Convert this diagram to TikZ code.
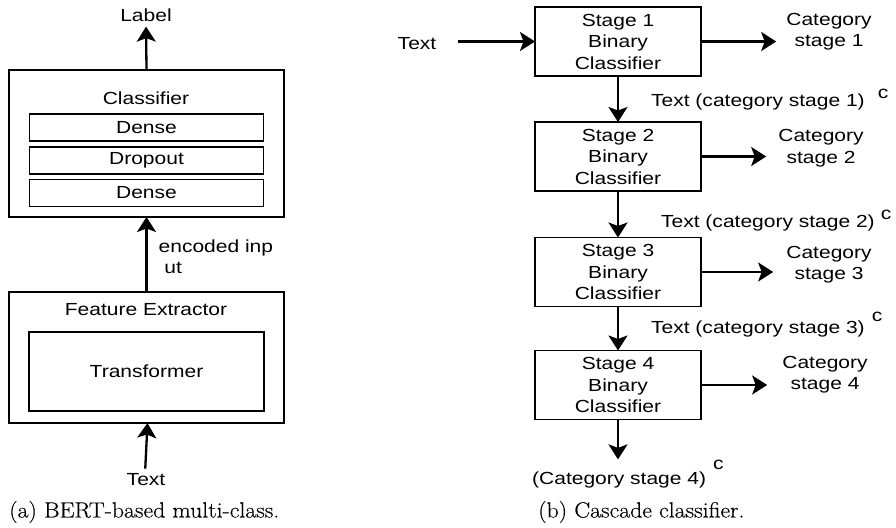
\documentclass[tikz,border=0pt]{standalone}
\usepackage{fontspec}
\newfontfamily\diafont[FakeStretch=1.2]{Liberation Sans}
\newfontfamily\capfont[FakeStretch=1.08,FakeBold=0.3]{Latin Modern Roman}
\usetikzlibrary{arrows.meta}

\begin{document}
\begin{tikzpicture}[x=1pt,y=-1pt,
	box/.style={draw,line width=1.6pt,inner sep=0,outer sep=0},
	lbl/.style={font=\diafont\fontsize{17.5}{21.5}\selectfont,align=center,inner sep=0},
	arr/.style={line width=2.3pt,-{Stealth[length=15pt,width=19pt,inset=3.5pt]}},
	captxt/.style={font=\capfont\fontsize{22}{26}\selectfont,inner sep=0,anchor=west}]
	\useasboundingbox (0,0) rectangle (896,527);

	\node[box,minimum width=275pt,minimum height=147pt] (clf) at (146.5,143.5) {};
	\node[lbl] (clft) at (146,98) {Classifier};
	\node[box,lbl,minimum width=234pt,minimum height=27pt] (d1) at (146.5,127.5) {Dense};
	\node[box,lbl,minimum width=234pt,minimum height=27pt] (drop) at (146.5,160.5) {Dropout};
	\node[box,lbl,minimum width=234pt,minimum height=27pt] (d2) at (146.5,193) {Dense};
	\node[lbl] (lab) at (146,15) {Label};
	\node[box,minimum width=275pt,minimum height=131pt] (feat) at (146.5,357.5) {};
	\node[lbl] (featt) at (146,310) {Feature Extractor};
	\node[box,lbl,minimum width=235pt,minimum height=79pt] (trf) at (146.5,371.5) {Transformer};
	\node[lbl] (tin) at (146,480) {Text};
	\draw[arr,shorten >=5pt] (clf.north) -- (lab.south);
	\draw[arr] (feat.north) -- node[lbl,anchor=west,align=left,xshift=11pt,yshift=-2pt] {encoded inp\\\ ut} (clf.south);
	\draw[arr,shorten <=5pt] ([xshift=-1pt]tin.north) -- ([xshift=1pt]feat.south);

	\node[lbl] (tin2) at (417,44) {Text};
	\node[box,lbl,minimum width=166pt,minimum height=69pt] (s1) at (618,41.5) {Stage 1\\Binary\\Classifier};
	\node[box,lbl,minimum width=166pt,minimum height=69pt] (s2) at (618,156.5) {Stage 2\\Binary\\Classifier};
	\node[box,lbl,minimum width=166pt,minimum height=69pt] (s3) at (618,272) {Stage 3\\Binary\\Classifier};
	\node[box,lbl,minimum width=166pt,minimum height=69pt] (s4) at (618,385) {Stage 4\\Binary\\Classifier};
	\node[lbl] (c1) at (829,31.5) {Category\\stage 1};
	\node[lbl] (c2) at (821,148) {Category\\stage 2};
	\node[lbl] (c3) at (829,264.5) {Category\\stage 3};
	\node[lbl] (c4) at (825,374.5) {Category\\stage 4};
	\node[lbl,anchor=base west] (fin) at (532,484) {(Category stage 4)\hspace{7pt}\raisebox{15pt}{c}};
	\draw[arr,shorten <=22pt] (tin2.east |- s1) -- (s1.west);
	\draw[arr,shorten >=10pt] (s1.east) -- (s1.east -| c1.west);
	\draw[arr,shorten >=12pt] (s2.east) -- (s2.east -| c2.west);
	\draw[arr,shorten >=13pt] (s3.east) -- (s3.east -| c3.west);
	\draw[arr,shorten >=15pt] (s4.east) -- (s4.east -| c4.west);
	\draw[arr] (s1) -- node[lbl,anchor=base west,xshift=32pt,yshift=-7pt] {Text (category stage 1)\hspace{13pt}\raisebox{8pt}{c}} (s2);
	\draw[arr] (s2) -- node[lbl,anchor=base west,xshift=42pt,yshift=-13pt] {Text (category stage 2)\hspace{6pt}\raisebox{8pt}{c}} (s3);
	\draw[arr] (s3) -- node[lbl,anchor=base west,xshift=32pt,yshift=-5pt] {Text (category stage 3)\hspace{7pt}\raisebox{12pt}{c}} (s4);
	\draw[arr] (s4) -- (s4.south |- fin.north);

	\node[captxt] (capa) at (9,512) {(a) BERT-based multi-class.};
	\node[captxt] (capb) at (538,512) {(b) Cascade classifier.};
\end{tikzpicture}
\end{document}
